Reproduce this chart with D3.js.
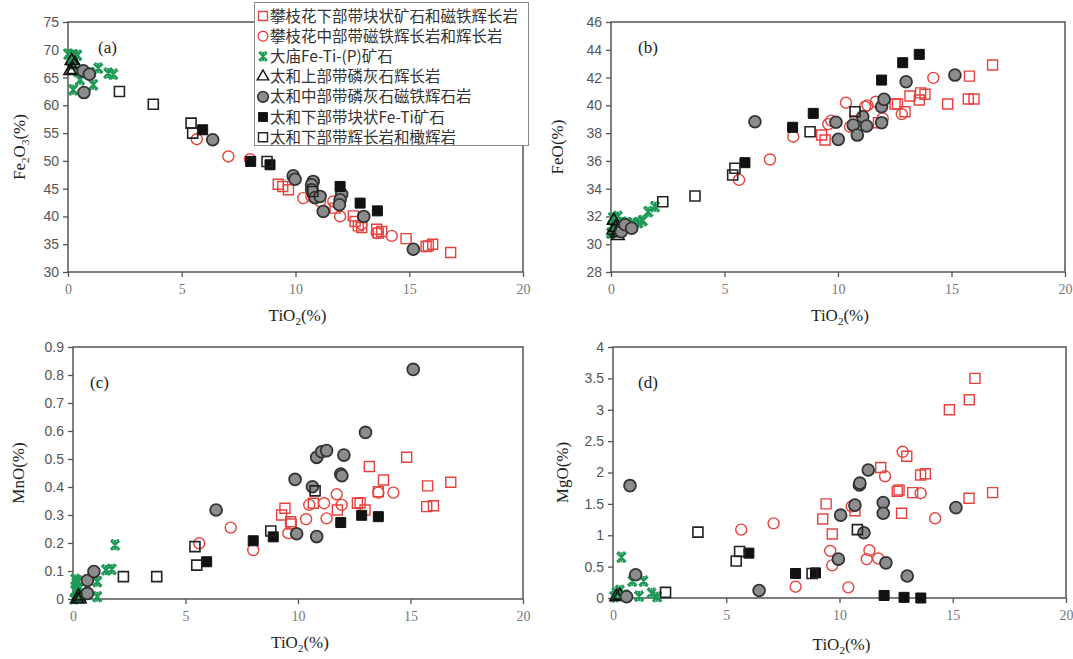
<!DOCTYPE html>
<html>
<head>
<meta charset="utf-8">
<script src="https://cdn.jsdelivr.net/npm/d3@7"></script>
<style>
  body { margin: 0; background: #fff; }
  svg { display: block; }
  .ytick text { font-family: "Liberation Sans", Arial, sans-serif; font-size: 14px; fill: #555; }
  .xtick text { font-family: "Liberation Serif", "Times New Roman", serif; font-size: 14px; fill: #777; }
  .title { font-family: "Liberation Serif", "Times New Roman", serif; font-size: 17px; fill: #222; }
  .legend text { font-family: "Noto Sans CJK SC", sans-serif; font-size: 15.5px; fill: #333; }
</style>
</head>
<body>
<svg id="chart" width="1073" height="659"></svg>
<script>
// TiO2 tick labels shared by all four panels
const xTicks = [0, 5, 10, 15, 20];
const yTicksA = [30, 35, 40, 45, 50, 55, 60, 65, 70, 75];
const yTicksB = [28, 30, 32, 34, 36, 38, 40, 42, 44, 46];
const yTicksC = [0, 0.1, 0.2, 0.3, 0.4, 0.5, 0.6, 0.7, 0.8, 0.9];
const yTicksD = [0, 0.5, 1, 1.5, 2, 2.5, 3, 3.5, 4];

const legendNames = [
  "攀枝花下部带块状矿石和磁铁辉长岩",
  "攀枝花中部带磁铁辉长岩和辉长岩",
  "大庙Fe-Ti-(P)矿石",
  "太和上部带磷灰石辉长岩",
  "太和中部带磷灰石磁铁辉石岩",
  "太和下部带块状Fe-Ti矿石",
  "太和下部带辉长岩和橄辉岩"
];

// (a) Fe2O3 vs TiO2
const aRedSq = [[9.24,45.8],[9.44,45.4],[9.69,44.8],[11.74,41.5],[12.54,40.1],[12.62,39.1],[12.76,38.3],[12.91,38.0],[13.57,37.7],[13.64,37.0],[13.79,37.3],[14.86,36.0],[15.74,34.6],[15.84,34.7],[16.03,35.0],[16.82,33.5]];
const aRedCi = [[5.66,53.9],[7.05,50.8],[8.0,50.3],[10.34,43.3],[10.7,43.6],[11.08,42.7],[11.66,42.7],[11.96,40.0],[13.57,37.0],[14.23,36.5],[12.9,38.6]];
const aGreen = [[0.01,69.2],[0.23,69.1],[0.41,69.0],[0.09,68.2],[0.3,68.2],[0.16,67.3],[0.23,62.8],[0.53,64.6],[0.45,66.05],[1.11,63.7],[1.33,66.7],[1.77,65.8],[1.99,65.6],[0.97,65.9]];
const aTri = [[0.16,68.0],[0.23,66.4],[0.1,66.2],[0.3,67.5]];
const aGray = [[0.67,66.2],[0.94,65.6],[0.7,62.3],[6.36,53.8],[9.9,47.3],[9.98,46.7],[10.78,46.3],[10.71,45.7],[10.71,44.8],[10.86,43.4],[11.08,43.6],[11.22,40.9],[12.03,44.0],[11.96,43.0],[11.93,42.1],[13.0,40.0],[15.18,34.1]];
const aBlackSq = [[5.92,55.6],[8.03,49.9],[8.88,49.3],[11.96,45.4],[12.84,42.4],[13.6,41.0]];
const aOpenSq = [[2.26,62.5],[3.75,60.2],[5.41,56.8],[5.48,55.0],[8.75,49.9],[10.76,44.5]];

// (b) FeO vs TiO2
const bRedSq = [[9.28,37.86],[9.43,37.5],[10.75,38.9],[11.78,38.75],[12.51,40.1],[12.62,40.1],[12.95,39.54],[13.17,40.67],[13.58,40.38],[13.64,40.9],[13.83,40.8],[14.83,40.1],[15.74,40.46],[15.99,40.46],[15.79,42.1],[16.81,42.9]];
const bRedCi = [[5.64,34.63],[7.0,36.1],[8.03,37.74],[9.57,38.65],[9.7,38.9],[10.35,40.19],[10.53,38.46],[11.19,39.9],[11.3,40.0],[11.67,40.26],[11.97,39.06],[12.81,39.37],[14.2,41.98]];
const bGreen = [[0.0,30.8],[0.05,31.3],[0.08,31.9],[0.2,30.9],[0.3,32.0],[0.5,31.6],[0.69,31.55],[1.0,31.5],[1.2,31.55],[1.4,31.7],[1.64,32.34],[1.94,32.7]];
const bTri = [[0.12,31.7],[0.2,31.2],[0.25,30.8],[0.3,30.6],[0.1,31.0]];
const bGray = [[0.45,30.9],[0.62,31.4],[0.91,31.15],[6.34,38.82],[9.91,38.78],[10.01,37.55],[10.67,38.58],[10.85,37.86],[11.09,39.18],[11.26,38.51],[11.92,38.75],[11.92,39.9],[12.03,40.43],[13.0,41.7],[15.15,42.18]];
const bBlackSq = [[5.9,35.87],[8.0,38.42],[8.91,39.42],[11.92,41.82],[12.85,43.07],[13.58,43.67]];
const bOpenSq = [[2.28,33.06],[3.7,33.47],[5.36,34.98],[5.46,35.47],[8.77,38.1],[10.75,39.54]];

// (c) MnO vs TiO2
const cRedSq = [[9.27,0.3],[9.42,0.324],[9.67,0.276],[9.7,0.268],[10.68,0.342],[11.75,0.318],[12.64,0.342],[12.76,0.344],[12.98,0.318],[13.17,0.473],[13.57,0.383],[13.8,0.425],[14.83,0.506],[15.76,0.404],[15.72,0.33],[16.02,0.333],[16.79,0.417]];
const cRedCi = [[5.61,0.199],[7.01,0.255],[8.01,0.175],[9.57,0.235],[10.36,0.285],[10.5,0.336],[11.16,0.342],[11.27,0.288],[11.72,0.374],[11.94,0.336],[13.57,0.38],[14.24,0.38]];
const cGreen = [[0.05,0.0],[0.1,0.03],[0.15,0.056],[0.2,0.065],[0.3,0.04],[0.25,0.005],[0.4,0.02],[1.08,0.062],[1.08,0.008],[1.47,0.104],[1.72,0.106],[1.87,0.193],[0.1,0.07]];
const cTri = [[0.2,0.0],[0.3,0.0],[0.25,0.01]];
const cGray = [[0.64,0.02],[0.64,0.066],[0.93,0.098],[6.36,0.318],[9.87,0.427],[9.94,0.233],[10.64,0.401],[10.83,0.506],[11.05,0.526],[11.27,0.53],[10.83,0.223],[11.9,0.446],[11.95,0.44],[12.04,0.514],[13.0,0.595],[15.12,0.82]];
const cBlackSq = [[5.94,0.133],[8.01,0.208],[8.9,0.222],[11.9,0.273],[12.83,0.299],[13.57,0.294]];
const cOpenSq = [[2.24,0.08],[3.72,0.08],[5.42,0.187],[5.5,0.121],[8.79,0.243],[10.76,0.386]];

// (d) MgO vs TiO2
const dRedSq = [[9.26,1.26],[9.41,1.5],[9.68,1.02],[10.68,1.39],[11.82,2.08],[12.55,1.7],[12.63,1.72],[12.74,1.35],[12.97,2.26],[13.23,1.68],[13.58,1.96],[13.79,1.98],[14.85,3.0],[15.72,1.59],[15.73,3.16],[15.98,3.5],[16.76,1.68]];
const dRedCi = [[5.66,1.09],[7.09,1.19],[8.06,0.18],[9.59,0.75],[9.68,0.52],[10.39,0.17],[10.54,1.46],[11.2,0.62],[11.32,0.76],[11.71,0.63],[12.01,1.94],[12.79,2.33],[13.58,1.67],[14.22,1.27]];
const dGreen = [[0.05,0.02],[0.15,0.08],[0.37,0.65],[0.3,0.12],[0.85,0.27],[1.35,0.27],[1.15,0.03],[1.7,0.08],[1.95,0.02],[0.5,0.05]];
const dTri = [[0.15,0.02],[0.3,0.04]];
const dGray = [[0.6,0.02],[0.75,1.79],[1.0,0.37],[6.45,0.12],[9.95,0.62],[10.05,1.32],[10.68,1.48],[10.88,1.8],[10.9,1.83],[11.08,1.04],[11.27,2.04],[11.93,1.52],[11.93,1.35],[12.05,0.56],[12.99,0.35],[15.14,1.44]];
const dBlackSq = [[6.0,0.715],[8.06,0.39],[8.94,0.4],[11.97,0.04],[12.85,0.01],[13.59,0.0]];
const dOpenSq = [[2.32,0.09],[3.75,1.05],[5.44,0.59],[5.59,0.74],[8.79,0.39],[10.79,1.09]];

const svg = d3.select('#chart');

// marker styles, in legend order
const markers = [
  { sym: d3.symbolSquare, size: 100, fill: 'none', stroke: '#e8413c', sw: 1.4 },
  { sym: d3.symbolCircle, size: 95, fill: 'none', stroke: '#e8413c', sw: 1.4 },
  { star: true, stroke: '#1d9a56', sw: 2.2 },
  { sym: d3.symbolTriangle, size: 70, fill: 'none', stroke: '#111', sw: 1.6 },
  { sym: d3.symbolCircle, size: 110, fill: '#8c8c8c', stroke: '#333', sw: 1.8 },
  { sym: d3.symbolSquare, size: 100, fill: '#111', stroke: '#111', sw: 1 },
  { sym: d3.symbolSquare, size: 100, fill: 'none', stroke: '#222', sw: 1.6 }
];

function markerPath(m) {
  if (m.star) return 'M-4.5,-4.5L4.5,4.5M-4.5,4.5L4.5,-4.5M0,-5V5M-4,-4.5H-1.5M1.5,-4.5H4M-4,4.5H-1.5M1.5,4.5H4';
  return d3.symbol(m.sym, m.size)();
}

const panels = [
  { label: '(a)', left: 68, right: 523, top: 22, bottom: 272, yDomain: [30, 75], yTicks: yTicksA,
    series: [aRedSq, aRedCi, aGreen, aTri, aGray, aBlackSq, aOpenSq],
    yTitle: ['Fe', '2', 'O', '3', '(%)'], yTitleX: 25, labelPos: [98, 53], xTitleY: 321 },
  { label: '(b)', left: 611, right: 1065, top: 22, bottom: 272, yDomain: [28, 46], yTicks: yTicksB,
    series: [bRedSq, bRedCi, bGreen, bTri, bGray, bBlackSq, bOpenSq],
    yTitle: ['FeO(%)'], yTitleX: 563, labelPos: [638, 53], xTitleY: 321 },
  { label: '(c)', left: 73, right: 523, top: 347, bottom: 599, yDomain: [0, 0.9], yTicks: yTicksC,
    series: [cRedSq, cRedCi, cGreen, cTri, cGray, cBlackSq, cOpenSq],
    yTitle: ['MnO(%)'], yTitleX: 24, labelPos: [90, 388], xTitleY: 648 },
  { label: '(d)', left: 613, right: 1066, top: 347, bottom: 598, yDomain: [0, 4], yTicks: yTicksD,
    series: [dRedSq, dRedCi, dGreen, dTri, dGray, dBlackSq, dOpenSq],
    yTitle: ['MgO(%)'], yTitleX: 568, labelPos: [638, 388], xTitleY: 650 }
];

panels.forEach(p => {
  const x = d3.scaleLinear().domain([0, 20]).range([p.left, p.right]);
  const y = d3.scaleLinear().domain(p.yDomain).range([p.bottom, p.top]);
  const g = svg.append('g');

  // y axis
  const ya = g.append('g').attr('class', 'ytick')
    .attr('transform', `translate(${p.left},0)`)
    .call(d3.axisLeft(y).tickValues(p.yTicks).tickSize(5).tickPadding(4).tickFormat(d => String(+d.toFixed(2))));
  ya.select('.domain').remove();
  ya.selectAll('line').attr('stroke', '#555').attr('stroke-width', 1.3);

  // x axis
  const xa = g.append('g').attr('class', 'xtick')
    .attr('transform', `translate(0,${p.bottom})`)
    .call(d3.axisBottom(x).tickValues(xTicks).tickSize(5).tickPadding(7));
  xa.select('.domain').remove();
  xa.selectAll('line').attr('stroke', '#555').attr('stroke-width', 1.3);

  // frame
  g.append('rect')
    .attr('x', p.left).attr('y', p.top)
    .attr('width', p.right - p.left).attr('height', p.bottom - p.top)
    .attr('fill', 'none').attr('stroke', '#555').attr('stroke-width', 1.5);

  // x title TiO2(%)
  const xt = g.append('text').attr('class', 'title')
    .attr('x', (p.left + p.right) / 2 + 2).attr('y', p.xTitleY).attr('text-anchor', 'middle');
  xt.append('tspan').text('TiO');
  xt.append('tspan').text('2').attr('font-size', 11).attr('dy', 4);
  xt.append('tspan').text('(%)').attr('dy', -4);

  // y title
  const cy = (p.top + p.bottom) / 2;
  const yt = g.append('text').attr('class', 'title')
    .attr('transform', `translate(${p.yTitleX},${cy}) rotate(-90)`)
    .attr('text-anchor', 'middle');
  if (p.yTitle.length > 1) {
    yt.append('tspan').text('Fe');
    yt.append('tspan').text('2').attr('font-size', 11).attr('dy', 4);
    yt.append('tspan').text('O').attr('dy', -4);
    yt.append('tspan').text('3').attr('font-size', 11).attr('dy', 4);
    yt.append('tspan').text('(%)').attr('dy', -4);
  } else {
    yt.text(p.yTitle[0]);
  }

  // panel label
  g.append('text').attr('class', 'title')
    .attr('x', p.labelPos[0]).attr('y', p.labelPos[1]).text(p.label);

  // points
  p.series.forEach((pts, i) => {
    const m = markers[i];
    g.append('g').selectAll('path')
      .data(pts)
    .enter().append('path')
      .attr('d', markerPath(m))
      .attr('transform', d => `translate(${x(d[0])},${y(d[1])})`)
      .attr('fill', m.fill || 'none')
      .attr('stroke', m.stroke)
      .attr('stroke-width', m.sw);
  });
});

// legend, drawn over panel (a)
const lg = svg.append('g').attr('class', 'legend');
lg.append('rect')
  .attr('x', 254.5).attr('y', 2.5).attr('width', 274).attr('height', 143)
  .attr('fill', '#fff').attr('stroke', '#888').attr('stroke-width', 1);
legendNames.forEach((name, i) => {
  const cy = 16 + i * 20.2;
  const m = markers[i];
  lg.append('path')
    .attr('d', markerPath(m))
    .attr('transform', `translate(263,${cy}) scale(0.9)`)
    .attr('fill', m.fill || 'none')
    .attr('stroke', m.stroke)
    .attr('stroke-width', m.sw);
  lg.append('text')
    .attr('x', 270).attr('y', cy + 5.5)
    .text(name);
});
</script>
</body>
</html>
